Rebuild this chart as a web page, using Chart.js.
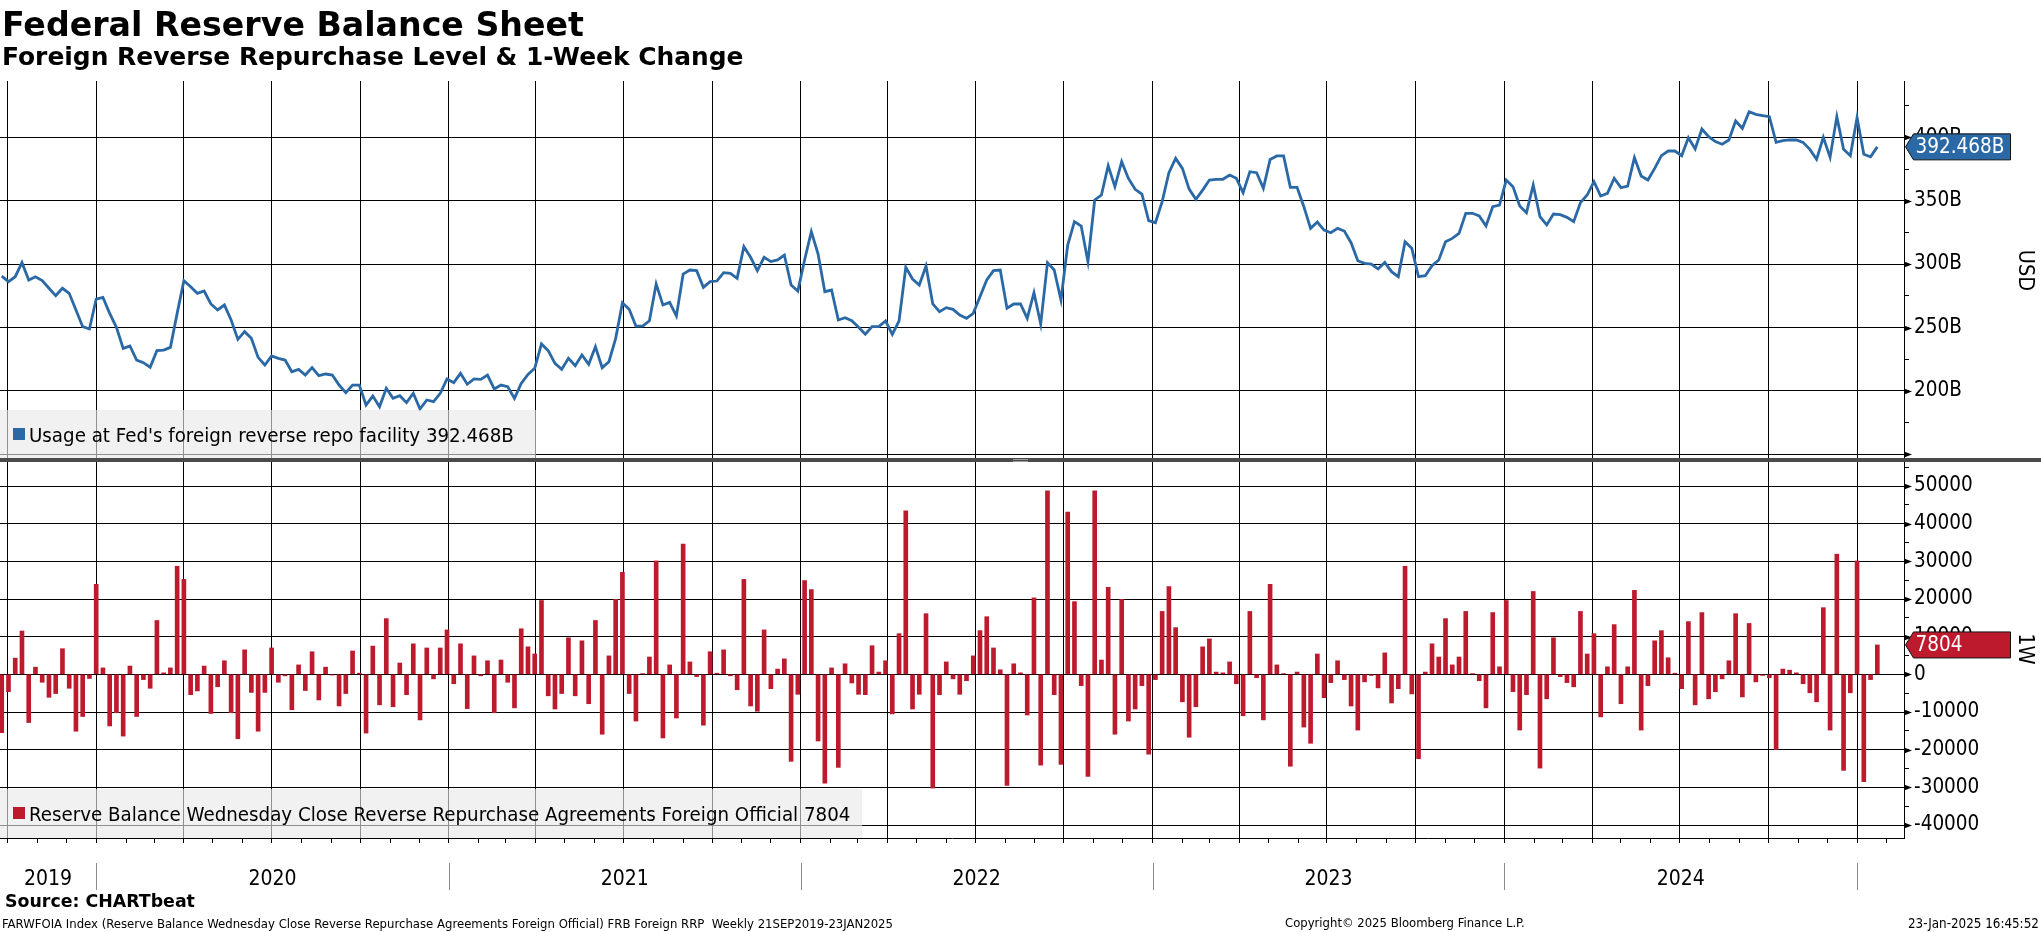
<!DOCTYPE html>
<html><head><meta charset="utf-8">
<script src="https://cdn.jsdelivr.net/npm/chart.js@4.4.1/dist/chart.umd.min.js"></script>
<style>
html,body{margin:0;padding:0;background:#fff;}
#wrap{position:relative;width:2041px;height:932px;overflow:hidden;background:#fff;}
#c{position:absolute;left:0;top:0;}
.t{position:absolute;white-space:pre;line-height:1;color:#000;}
</style></head><body>
<div id="wrap">
<canvas id="c" width="2041" height="932"></canvas>
<div class="t" id="title">Federal Reserve Balance Sheet</div>
<div class="t" id="subtitle">Foreign Reverse Repurchase Level &amp; 1-Week Change</div>
<div class="t" id="source">Source: CHARTbeat</div>
<div class="t" id="foot1">FARWFOIA Index (Reserve Balance Wednesday Close Reverse Repurchase Agreements Foreign Official) FRB Foreign RRP  Weekly 21SEP2019-23JAN2025</div>
<div class="t" id="foot2">Copyright© 2025 Bloomberg Finance L.P.</div>
<div class="t" id="foot3">23-Jan-2025 16:45:52</div>
</div>
<script>
// ---------------- DATA ----------------
// first weekly observation (Wednesday 25 Sep 2019), one value per week
const firstObservation = [2019, 8, 25];

// Usage at Fed's foreign reverse repo facility, USD billions
const levelB = [
  290.6,286.2,290.1,301.2,287.5,290.1,287.0,281.0,275.1,281.0,
  277.0,263.9,250.7,248.9,272.5,273.8,261.2,250.2,233.6,235.5,
  224.4,222.3,218.7,231.8,232.3,234.4,261.2,287.0,282.2,277.0,
  278.8,268.6,263.9,267.8,256.0,240.7,246.8,241.5,226.5,220.5,
  227.6,225.7,224.4,215.2,217.1,212.6,218.4,212.1,213.4,212.6,
  204.7,198.7,204.7,204.7,188.9,196.0,187.6,202.1,194.2,196.3,
  190.8,198.2,185.8,192.9,191.6,198.2,209.5,206.6,213.9,205.3,
  209.5,209.2,212.6,201.6,204.7,203.4,194.2,206.0,213.1,217.9,
  237.1,231.8,221.8,217.1,225.8,220.0,228.4,221.0,234.9,218.4,
  223.1,241.5,269.6,264.4,251.2,251.2,255.4,284.4,267.8,269.9,
  259.1,292.2,295.4,294.9,281.7,286.2,286.7,293.3,292.8,288.8,
  313.8,305.4,294.9,305.4,302.0,303.3,307.2,283.6,278.8,303.3,
  325.6,308.0,278.3,279.6,256.0,257.8,255.4,250.2,244.7,250.7,
  250.7,255.2,244.7,255.2,297.5,288.3,283.6,298.5,268.6,262.5,
  265.7,264.4,259.9,257.3,261.2,274.4,287.5,294.9,295.4,265.2,
  268.6,268.6,257.3,277.5,252.8,301.2,295.4,271.7,315.1,333.5,
  330.1,301.9,350.6,354.5,377.6,361.1,380.8,367.6,359.0,355.3,
  334.3,332.7,349.3,372.1,383.4,375.5,359.2,351.1,358.4,366.3,
  366.9,366.9,370.3,367.7,356.4,372.9,372.1,359.8,382.6,385.3,
  385.3,360.6,360.6,345.3,328.2,333.2,326.9,324.8,328.2,326.1,
  316.9,302.7,300.6,300.1,296.2,301.4,294.1,290.1,317.7,312.5,
  290.1,290.9,298.8,303.3,317.7,320.3,324.3,340.1,340.1,338.0,
  330.1,345.3,346.6,366.3,361.1,345.8,340.6,362.4,337.4,330.9,
  339.5,339.0,336.9,333.5,348.5,354.5,365.0,353.7,355.8,367.7,
  360.3,361.6,384.0,369.5,366.3,375.5,385.5,389.2,389.2,385.5,
  399.7,390.8,406.5,400.5,396.6,394.5,397.9,412.9,407.1,420.2,
  418.1,417.1,416.3,396.0,397.4,397.9,397.9,396.0,390.5,382.6,
  400.0,384.2,416.3,390.5,385.5,415.5,386.6,384.7,392.468
];

// 1-week change, USD millions
const changeM = [
  -15500,-4600,4300,11500,-12800,1900,-2100,-6100,-5100,6800,
  -3700,-15100,-11200,-1100,23900,1700,-13700,-10200,-16400,2200,
  -11200,-1400,-3700,14300,400,1700,28700,25200,-5400,-4400,
  2200,-10400,-3300,3600,-10200,-17100,6500,-4800,-15100,-4800,
  7000,-2100,-400,-9400,2500,-4300,6000,-6800,1900,-200,
  -8400,-5100,6200,300,-15600,7500,-8100,14800,-8600,3000,
  -5400,8100,-12100,7000,-1200,7000,11800,-2500,8100,-9100,
  4900,-400,3600,-10200,3800,-2100,-8900,12100,7300,5400,
  19600,-5700,-9200,-5100,9700,-5700,8900,-7800,14300,-15900,
  4900,19900,27100,-5100,-12400,200,4600,30100,-16900,2500,
  -11600,34600,3300,-600,-13500,6000,300,6500,-400,-4100,
  25200,-8400,-9800,11800,-3800,1400,4100,-23100,-5300,24900,
  22500,-17700,-28900,1700,-24700,2800,-2300,-5300,-5400,7600,
  600,3600,-10500,10800,43400,-9200,-5300,16100,-30200,-5400,
  3300,-1200,-5300,-1700,4900,11600,15300,7000,1200,-29500,
  2800,400,-10800,20300,-24100,48700,-5400,-23900,43100,19300,
  -3000,-27100,48700,3800,23100,-15900,19900,-12400,-9200,-3000,
  -21200,-1400,16700,23300,12400,-7300,-16700,-8600,7300,9400,
  600,400,3300,-2500,-11000,16700,-900,-12100,23900,2500,
  200,-24400,600,-14000,-18300,5400,-6200,-2200,3600,-1400,
  -8400,-14800,-2000,-300,-3600,5700,-7600,-3800,28700,-5200,
  -22400,600,8100,4600,14800,2500,4600,16700,200,-1700,
  -8900,16400,2000,19600,-4600,-14800,-5400,22000,-24900,-6500,
  9700,-600,-2200,-3300,16700,5400,10800,-11300,2000,13200,
  -7800,2000,22300,-14800,-3000,8900,11600,4400,300,-3800,
  14000,-8100,16400,-6500,-4600,-1200,3600,16100,-6000,13500,
  -2000,-300,-900,-20000,1400,1100,400,-2500,-4900,-7300,
  17700,-14800,31900,-25500,-4900,30100,-28500,-1400,7804
];

const levelName = "Usage at Fed's foreign reverse repo facility";
const changeName = "Reserve Balance Wednesday Close Reverse Repurchase Agreements Foreign Official";
const topTickValues = [150,175,200,225,250,275,300,325,350,375,400,425];
const bottomTickValues = [-40000,-35000,-30000,-25000,-20000,-15000,-10000,-5000,0,5000,10000,15000,20000,25000,30000,35000,40000,45000,50000,55000];
const yearLabels = [2019,2020,2021,2022,2023,2024,2025];

// ---------------- HELPERS ----------------
const dayOf = (y, m, d) => (Date.UTC(y, m, d) - Date.UTC(2019, 0, 1)) / 864e5;
const firstDay = dayOf(...firstObservation);
const weekDays = levelB.map((_, i) => firstDay + 7 * i);
const lastDay = weekDays[weekDays.length - 1];

function fontAvailable(name) {
  const c = document.createElement('canvas').getContext('2d');
  const s = 'abcdefghijklmnopqrstuvwxyzABCDEFGHIJKLMNOPQRSTUVWXYZ0123456789';
  c.font = '40px monospace'; const a = c.measureText(s).width;
  c.font = '40px "' + name + '", monospace'; const b = c.measureText(s).width;
  return Math.abs(a - b) > 0.5;
}
const COND = fontAvailable('DejaVu Sans Condensed');
const FAM = COND ? '"DejaVu Sans Condensed", "DejaVu Sans", sans-serif' : '"DejaVu Sans", sans-serif';
const FS = COND ? 20.5 : 19;
const LFS = COND ? 20.3 : 18.4;
const YFS = COND ? 21 : 19.5;
const NARROW = COND ? '"DejaVu Sans Condensed"' : (fontAvailable('Liberation Sans Narrow') ? '"Liberation Sans Narrow"' : '"DejaVu Sans"');

const BLUE = '#2b69a6';
const RED = '#bd1a2e';

// x axis (days since 1 Jan 2019)
const xMin = firstDay - 1.8;
const xMax = lastDay + 27.7;
const monthTicks = [], quarterSet = new Set();
for (let y = 2019; y <= 2025; y++) for (let m = 0; m < 12; m++) {
  const d = dayOf(y, m, 1);
  if (d > xMin && d < xMax) { monthTicks.push(d); if (m % 3 === 0) quarterSet.add(d); }
}

// ---------------- HTML TEXT PLACEMENT ----------------
function place(id, family, weight, target, x, baseline, right) {
  const el = document.getElementById(id);
  const c = document.createElement('canvas').getContext('2d');
  c.font = weight + ' 100px ' + family;
  const w = c.measureText(el.textContent).width;
  const fs = 100 * target / w;
  el.style.fontFamily = family; el.style.fontWeight = weight; el.style.fontSize = fs + 'px';
  el.style.top = (baseline - 0.846 * fs) + 'px';
  el.style.left = (right ? x - target : x) + 'px';
}
place('title', '"DejaVu Sans"', 'bold', 582, 2, 36.5);
place('subtitle', '"DejaVu Sans"', 'bold', 742, 2, 66.5);
place('source', '"DejaVu Sans"', 'bold', 190, 5, 908);
place('foot1', NARROW, 'normal', 892, 2, 928);
place('foot2', NARROW, 'normal', 240, 1285, 928);
place('foot3', NARROW, 'normal', 131, 2039, 928, true);

// ---------------- OVERLAY PLUGIN ----------------
function legendBox(ctx, x0, y0, w, h, color, text) {
  ctx.font = LFS + 'px ' + FAM;
  const tw = ctx.measureText(text).width;
  const bw = Math.max(w, 29 + tw + 10);
  ctx.fillStyle = 'rgba(232,232,232,0.62)';
  ctx.fillRect(x0, y0, bw, h);
  ctx.fillStyle = color;
  ctx.fillRect(x0 + 13, y0 + 18, 12, 12);
  ctx.fillStyle = '#000';
  ctx.textAlign = 'left'; ctx.textBaseline = 'alphabetic';
  ctx.fillText(text, x0 + 29, y0 + 32);
}
function badge(ctx, axisX, y, color, text) {
  const tip = axisX + 1.5, h = 13, right = 2010.5;
  ctx.beginPath();
  ctx.moveTo(tip, y);
  ctx.lineTo(tip + 8, y - h);
  ctx.lineTo(right, y - h);
  ctx.lineTo(right, y + h);
  ctx.lineTo(tip + 8, y + h);
  ctx.closePath();
  ctx.fillStyle = color; ctx.fill();
  ctx.lineWidth = 1; ctx.strokeStyle = '#111'; ctx.stroke();
  ctx.fillStyle = '#fff';
  ctx.font = FS + 'px ' + FAM;
  ctx.textAlign = 'left'; ctx.textBaseline = 'middle';
  ctx.fillText(text, tip + 10, y + 1);
}
const overlay = {
  id: 'overlay',
  afterDraw(chart) {
    const ctx = chart.ctx;
    const xs = chart.scales.x, yT = chart.scales.yTop, yB = chart.scales.yBot;
    const axisX = yT.left;
    ctx.save();
    // legend boxes
    const last = levelB.length - 1;
    legendBox(ctx, 0, yT.bottom - 50, 536, 50, BLUE, levelName + ' ' + levelB[last].toFixed(3) + 'B');
    legendBox(ctx, 0, yB.bottom - 49, 862, 49, RED, changeName + ' ' + changeM[last]);
    // arrow tick marks on major ticks
    ctx.fillStyle = '#000';
    const arrows = (scale, vals, step) => vals.filter(v => v % step === 0).forEach(v => {
      const y = Math.round(scale.getPixelForValue(v)) + 0.5;
      ctx.beginPath(); ctx.moveTo(axisX, y - 3); ctx.lineTo(axisX + 8, y); ctx.lineTo(axisX, y + 3); ctx.closePath(); ctx.fill();
    });
    arrows(yT, topTickValues, 50);
    arrows(yB, bottomTickValues, 10000);
    // panel separator
    ctx.fillStyle = '#4b4b4b';
    ctx.fillRect(0, yT.bottom - 2, chart.width, 4);
    ctx.strokeStyle = '#9a9a9a'; ctx.lineWidth = 1;
    ctx.beginPath(); ctx.moveTo(1013, yT.bottom - 0.5); ctx.lineTo(1028, yT.bottom - 0.5);
    ctx.moveTo(1013, yT.bottom + 1.5); ctx.lineTo(1028, yT.bottom + 1.5); ctx.stroke();
    // year labels + separators
    ctx.font = YFS + 'px ' + FAM; ctx.textAlign = 'center'; ctx.textBaseline = 'alphabetic';
    yearLabels.forEach(yr => {
      const s = dayOf(yr, 0, 1), e = dayOf(yr + 1, 0, 1);
      const a = Math.max(s, xMin), b = Math.min(e, xMax);
      if (b <= a) return;
      const pa = xs.getPixelForValue(a), pb = xs.getPixelForValue(b);
      if (pb - pa > 80) { ctx.fillStyle = '#000'; ctx.fillText(String(yr), (pa + pb) / 2, 885); }
      if (s > xMin) {
        const px = Math.round(pa) + 0.5;
        ctx.strokeStyle = '#8a8a8a'; ctx.lineWidth = 1;
        ctx.beginPath(); ctx.moveTo(px, 863); ctx.lineTo(px, 890); ctx.stroke();
      }
    });
    // last value badges
    badge(ctx, axisX, yT.getPixelForValue(levelB[last]), BLUE, levelB[last].toFixed(3) + 'B');
    badge(ctx, axisX, yB.getPixelForValue(changeM[last]), RED, String(changeM[last]));
    ctx.restore();
  }
};

// ---------------- CHART ----------------
const tickFont = { family: FAM, size: FS };
new Chart(document.getElementById('c'), {
  type: 'line',
  data: {
    datasets: [
      { type: 'line', label: levelName, data: weekDays.map((d, i) => ({ x: d, y: levelB[i] })),
        xAxisID: 'x', yAxisID: 'yTop', borderColor: BLUE, borderWidth: 2.8, pointRadius: 0,
        pointHoverRadius: 0, tension: 0, fill: false },
      { type: 'bar', label: changeName, data: weekDays.map((d, i) => ({ x: d, y: changeM[i] })),
        xAxisID: 'x', yAxisID: 'yBot', backgroundColor: RED, borderWidth: 0, barThickness: 4 }
    ]
  },
  options: {
    responsive: false, animation: false, devicePixelRatio: 1, events: [],
    layout: { padding: { top: 81, left: 0, right: 0, bottom: 0 } },
    plugins: { legend: { display: false }, tooltip: { enabled: false } },
    scales: {
      x: {
        type: 'linear', position: 'bottom', min: xMin, max: xMax, offset: false,
        afterBuildTicks: s => { s.ticks = monthTicks.map(v => ({ value: v })); },
        afterFit: s => { s.height = 94; },
        grid: { offset: false, color: c => (c.tick && quarterSet.has(c.tick.value)) ? '#000' : 'rgba(0,0,0,0)',
                lineWidth: 1, drawTicks: true, tickLength: 5, tickColor: '#000', tickWidth: 1 },
        border: { display: true, color: '#000', width: 1 },
        ticks: { display: false, autoSkip: false }
      },
      yTop: {
        type: 'linear', position: 'right', stack: 'panels', stackWeight: 379,
        min: 145.6, max: 444.4, beginAtZero: false,
        afterBuildTicks: s => { s.ticks = topTickValues.map(v => ({ value: v })); },
        afterFit: s => { s.width = 137; },
        grid: { color: c => (c.tick && c.tick.value % 50 === 0) ? '#000' : 'rgba(0,0,0,0)',
                lineWidth: 1, drawTicks: true, tickLength: 5, tickColor: '#000', tickWidth: 1 },
        border: { display: true, color: '#000', width: 1 },
        ticks: { autoSkip: false, padding: 5, color: '#000', font: tickFont,
                 callback: v => (v % 50 === 0 && v !== 150) ? v + 'B' : '' },
        title: { display: true, text: 'USD', color: '#000', font: { family: FAM, size: FS + 1 }, padding: { top: 4, bottom: 0 } }
      },
      yBot: {
        type: 'linear', position: 'right', stack: 'panels', stackWeight: 378,
        min: -43451, max: 56903, beginAtZero: false,
        afterBuildTicks: s => { s.ticks = bottomTickValues.map(v => ({ value: v })); },
        afterFit: s => { s.width = 137; },
        grid: { color: c => (c.tick && c.tick.value % 10000 === 0) ? '#000' : 'rgba(0,0,0,0)',
                lineWidth: 1, drawTicks: true, tickLength: 5, tickColor: '#000', tickWidth: 1 },
        border: { display: true, color: '#000', width: 1 },
        ticks: { autoSkip: false, padding: 5, color: '#000', font: tickFont,
                 callback: v => (v % 10000 === 0) ? String(v) : '' },
        title: { display: true, text: '1W', color: '#000', font: { family: FAM, size: FS + 1 }, padding: { top: 4, bottom: 0 } }
      }
    }
  },
  plugins: [overlay]
});
</script>
</body></html>
